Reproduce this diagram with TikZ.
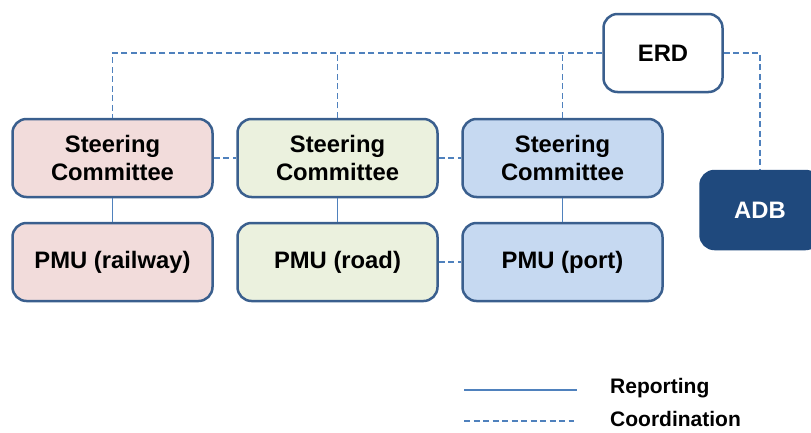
\documentclass[tikz,border=0pt]{standalone}
\usepackage{fontspec}
\setmainfont{Liberation Sans}
\definecolor{boxedge}{HTML}{3A5F8E}
\definecolor{linkblue}{HTML}{4F81BD}
\definecolor{railfill}{HTML}{F2DCDB}
\definecolor{roadfill}{HTML}{EBF1DE}
\definecolor{portfill}{HTML}{C6D9F1}
\definecolor{adbfill}{HTML}{1F497D}
\tikzset{
  orgbox/.style={rectangle, rounded corners=14pt, draw=boxedge, line width=2.5pt,
    minimum width=200pt, minimum height=78pt, align=center, inner sep=0pt,
    font=\bfseries\fontsize{23.8}{28}\selectfont},
  report/.style={draw=linkblue, line width=1.5pt},
  coordlink/.style={draw=linkblue, line width=1.5pt, dash pattern=on 6pt off 3.5pt},
  legendtext/.style={anchor=base west, inner sep=0pt, font=\bfseries\fontsize{21}{24}\selectfont}
}
\begin{document}
\begin{tikzpicture}[x=1pt,y=-1pt]
  \useasboundingbox (0,0) rectangle (811,432);
  \clip (0,0) rectangle (811,432);

  % governance boxes
  \node[orgbox, fill=white, minimum width=119pt] (erd) at (663,53) {ERD};
  \node[orgbox, fill=adbfill, draw=adbfill, text=white, minimum width=119pt] (adb) at (760,210) {ADB};

  \node[orgbox, fill=railfill] (sc1) at (112.5,158) {Steering\\Committee};
  \node[orgbox, fill=roadfill] (sc2) at (337.5,158) {Steering\\Committee};
  \node[orgbox, fill=portfill] (sc3) at (562.5,158) {Steering\\Committee};

  \node[orgbox, fill=railfill] (pmu1) at (112.5,262) {PMU (railway)};
  \node[orgbox, fill=roadfill] (pmu2) at (337.5,262) {PMU (road)};
  \node[orgbox, fill=portfill] (pmu3) at (562.5,262) {PMU (port)};

  % coordination links
  \draw[coordlink] (erd.west) -| (sc1.north);
  \draw[coordlink] (sc2.north) -- (sc2.north |- erd.west);
  \draw[coordlink] (sc3.north) -- (sc3.north |- erd.west);
  \draw[coordlink] (erd.east) -| (adb.north);
  \draw[coordlink] (sc1.east) -- (sc2.west);
  \draw[coordlink] (sc2.east) -- (sc3.west);
  \draw[coordlink] (pmu2.east) -- (pmu3.west);

  % reporting links
  \draw[report] (sc1.south) -- (pmu1.north);
  \draw[report] (sc2.south) -- (pmu2.north);
  \draw[report] (sc3.south) -- (pmu3.north);

  % legend
  \coordinate (repA) at (464,390);
  \coordinate (repB) at (577,390);
  \coordinate (corA) at (464,421);
  \coordinate (corB) at (574,421);
  \draw[report] (repA) -- (repB);
  \draw[coordlink] (corA) -- (corB);
  \node[legendtext] (replabel) at (610,393) {Reporting};
  \node[legendtext] (corlabel) at (610,426) {Coordination};
\end{tikzpicture}
\end{document}
